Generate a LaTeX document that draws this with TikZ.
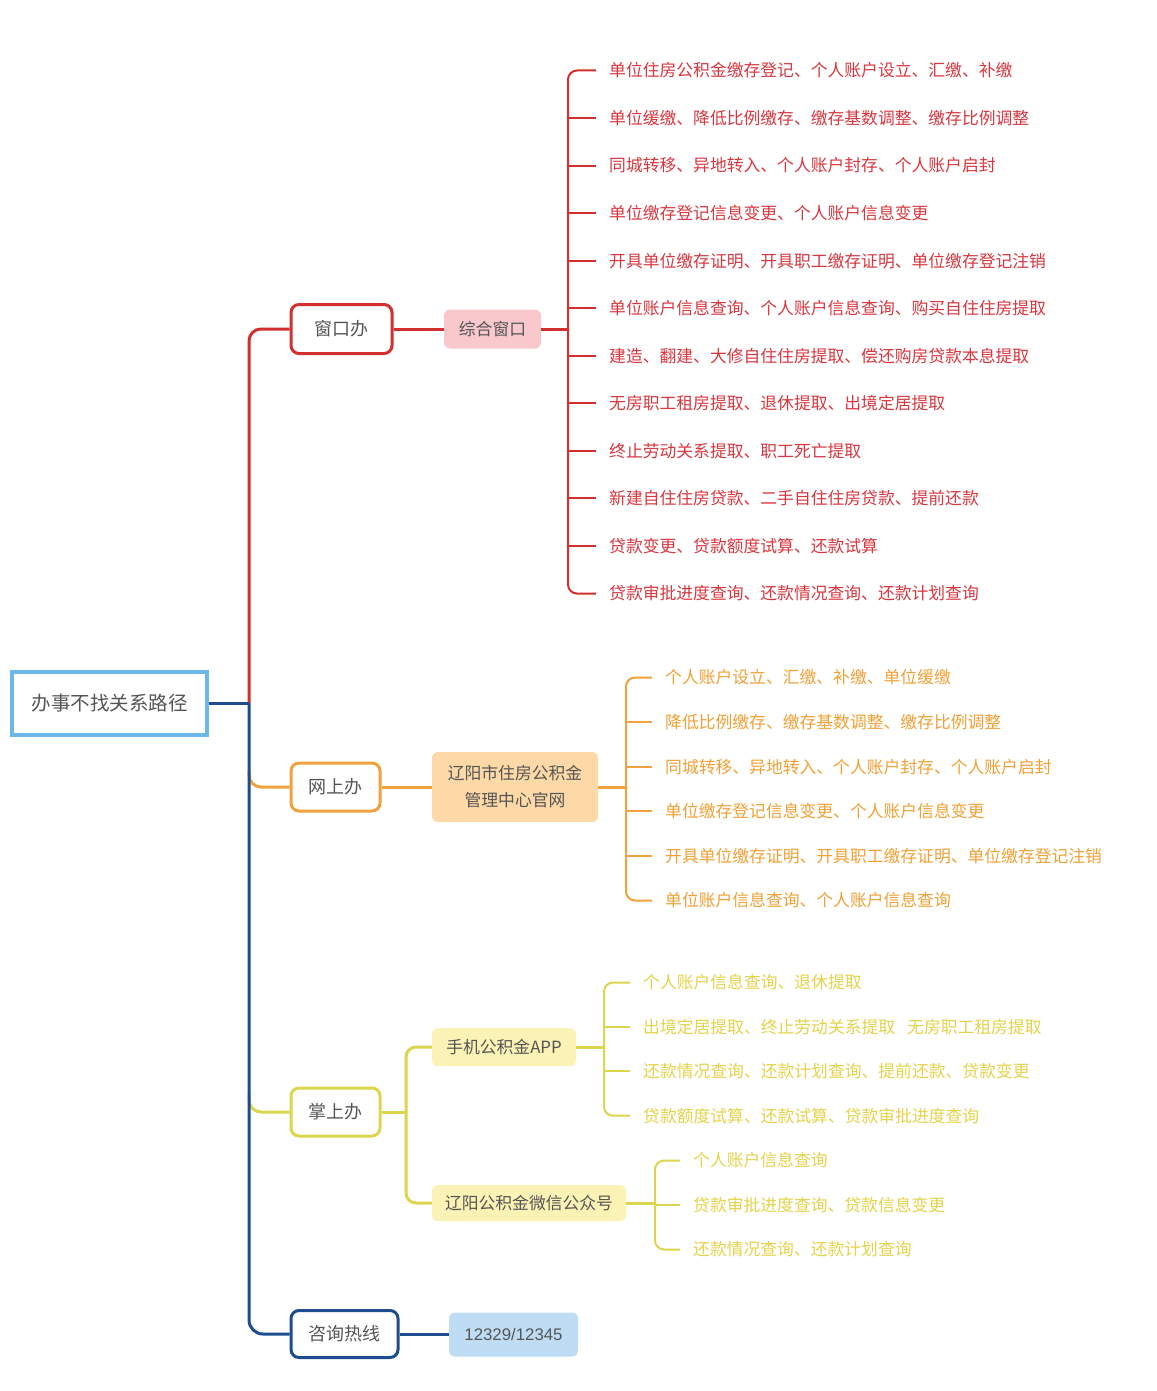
\documentclass[tikz,border=0pt]{standalone}
\usepackage{fontspec}
\setmainfont{Noto Sans CJK SC}
\newfontfamily\latinf{Liberation Sans}
\usetikzlibrary{calc}
\definecolor{cred}{HTML}{D32F2F}
\definecolor{tred}{HTML}{D8373F}
\definecolor{fpink}{HTML}{F8C8CD}
\definecolor{corange}{HTML}{F2A23C}
\definecolor{torange}{HTML}{F0A136}
\definecolor{forange}{HTML}{FCD9A6}
\definecolor{cyellow}{HTML}{DCD54E}
\definecolor{tyellow}{HTML}{E4D34B}
\definecolor{fyellow}{HTML}{FBF2B5}
\definecolor{cblue}{HTML}{1E4D8F}
\definecolor{rootb}{HTML}{6CB8E8}
\definecolor{fblue}{HTML}{BEDDF5}
\definecolor{tgray}{HTML}{555555}
\tikzset{
  every node/.style={text=tgray, inner sep=0pt},
  lvl1/.style={draw, fill=white, line width=3pt, rounded corners=8pt, font=\fontsize{18}{20}\selectfont},
  lvl2/.style={rounded corners=6pt, font=\fontsize{16.8}{19}\selectfont, align=center},
  item/.style={anchor=west, font=\fontsize{16.8}{19}\selectfont},
  conn/.style={line width=3pt},
  brk/.style={line width=2pt, rounded corners=9pt},
}
\begin{document}
\begin{tikzpicture}[x=1pt,y=-1pt]
\useasboundingbox (0,0) rectangle (1156,1391);
\fill[white] (0,0) rectangle (1156,1391);

% root
\node[draw=rootb, line width=4pt, minimum width=195pt, minimum height=63pt,
      font=\fontsize{19.5}{22}\selectfont] (root) at (109.5,703) {办事不找关系路径};
\coordinate (trunk) at (249,703);
\coordinate (ob) at (249,770);
\coordinate (yb) at (249,1094);

% level 1
\node[lvl1, draw=cred, minimum width=101pt, minimum height=49pt] (win) at (341.5,329) {窗口办};
\node[lvl1, draw=corange, minimum width=89pt, minimum height=48pt] (web) at (335.5,787) {网上办};
\node[lvl1, draw=cyellow, minimum width=89pt, minimum height=48pt] (palm) at (335.5,1112) {掌上办};
\node[lvl1, draw=cblue, minimum width=107pt, minimum height=47pt] (hot) at (344.5,1334) {咨询热线};

% branches from trunk
\draw[conn, cred, rounded corners=12pt] (trunk) |- (win.west);
\draw[conn, corange, rounded corners=12pt] (ob) |- (web.west);
\draw[conn, cyellow, rounded corners=12pt] (yb) |- (palm.west);
\draw[conn, cblue] (root.east) -- (trunk);
\draw[conn, cblue, rounded corners=14pt] (trunk) |- (hot.west);

% level 2
\node[lvl2, fill=fpink, minimum width=97pt, minimum height=39pt] (zh) at (492.5,329) {综合窗口};
\node[lvl2, fill=forange, minimum width=166pt, minimum height=70pt, font=\fontsize{16.8}{27}\selectfont] (gw) at (515,787) {辽阳市住房公积金\\管理中心官网};
\node[lvl2, fill=fyellow, minimum width=144pt, minimum height=38pt] (app) at (504,1047) {手机公积金APP};
\node[lvl2, fill=fyellow, minimum width=194pt, minimum height=36pt] (wx) at (529,1203) {辽阳公积金微信公众号};
\node[lvl2, fill=fblue, minimum width=129pt, minimum height=44pt, font=\latinf\fontsize{16.8}{19}\selectfont] (tel) at (513.5,1334.5) {12329/12345};

\draw[conn, cred] (win.east) -- (zh.west);
\draw[conn, corange] (web.east) -- (web.east -| gw.west);
\draw[conn, cblue] (hot.east) -- (hot.east -| tel.west);
\coordinate (py) at (406,1112);
\draw[conn, cyellow] (palm.east) -- (py);
\draw[conn, cyellow, rounded corners=10pt] (app.west) -| (py);
\draw[conn, cyellow, rounded corners=10pt] (wx.west) -| (py);

% red items
\foreach \t [count=\i] in {
 单位住房公积金缴存登记、个人账户设立、汇缴、补缴,
 单位缓缴、降低比例缴存、缴存基数调整、缴存比例调整,
 同城转移、异地转入、个人账户封存、个人账户启封,
 单位缴存登记信息变更、个人账户信息变更,
 开具单位缴存证明、开具职工缴存证明、单位缴存登记注销,
 单位账户信息查询、个人账户信息查询、购买自住住房提取,
 建造、翻建、大修自住住房提取、偿还购房贷款本息提取,
 无房职工租房提取、退休提取、出境定居提取,
 终止劳动关系提取、职工死亡提取,
 新建自住住房贷款、二手自住住房贷款、提前还款,
 贷款变更、贷款额度试算、还款试算,
 贷款审批进度查询、还款情况查询、还款计划查询}
 { \node[item, text=tred] (r\i) at (609,{70.5+(\i-1)*47.55}) {\t}; }
\coordinate (rb) at ($(r1.west)+(-41,0)$);
\draw[brk, cred] ($(r1.west)+(-13,0)$) -- (rb) -- ($(r12.west)+(-41,0)$) -- ($(r12.west)+(-13,0)$);
\foreach \i in {2,...,11} \draw[line width=2pt, cred] ($(r\i.west)+(-41,0)$) -- ($(r\i.west)+(-13,0)$);
\draw[conn, cred] (zh.east) -- (zh.east -| rb);

% orange items
\foreach \t [count=\i] in {
 个人账户设立、汇缴、补缴、单位缓缴,
 降低比例缴存、缴存基数调整、缴存比例调整,
 同城转移、异地转入、个人账户封存、个人账户启封,
 单位缴存登记信息变更、个人账户信息变更,
 开具单位缴存证明、开具职工缴存证明、单位缴存登记注销,
 单位账户信息查询、个人账户信息查询}
 { \node[item, text=torange] (o\i) at (665,{677.5+(\i-1)*44.6}) {\t}; }
\coordinate (orb) at ($(o1.west)+(-39,0)$);
\draw[brk, corange] ($(o1.west)+(-13,0)$) -- (orb) -- ($(o6.west)+(-39,0)$) -- ($(o6.west)+(-13,0)$);
\foreach \i in {2,...,5} \draw[line width=2pt, corange] ($(o\i.west)+(-39,0)$) -- ($(o\i.west)+(-13,0)$);
\draw[conn, corange] (gw.east) -- (gw.east -| orb);

% yellow items (APP)
\foreach \t [count=\i] in {
 个人账户信息查询、退休提取,
 出境定居提取、终止劳动关系提取\hspace{12pt}无房职工租房提取,
 还款情况查询、还款计划查询、提前还款、贷款变更,
 贷款额度试算、还款试算、贷款审批进度查询}
 { \node[item, text=tyellow] (a\i) at (643,{982.5+(\i-1)*44.4}) {\t}; }
\coordinate (arb) at ($(a1.west)+(-39,0)$);
\draw[brk, cyellow] ($(a1.west)+(-13,0)$) -- (arb) -- ($(a4.west)+(-39,0)$) -- ($(a4.west)+(-13,0)$);
\foreach \i in {2,3} \draw[line width=2pt, cyellow] ($(a\i.west)+(-39,0)$) -- ($(a\i.west)+(-13,0)$);
\draw[conn, cyellow] (app.east) -- (app.east -| arb);

% yellow items (WeChat)
\foreach \t [count=\i] in {
 个人账户信息查询,
 贷款审批进度查询、贷款信息变更,
 还款情况查询、还款计划查询}
 { \node[item, text=tyellow] (w\i) at (693,{1160.5+(\i-1)*44.5}) {\t}; }
\coordinate (wrb) at ($(w1.west)+(-38,0)$);
\draw[brk, cyellow] ($(w1.west)+(-13,0)$) -- (wrb) -- ($(w3.west)+(-38,0)$) -- ($(w3.west)+(-13,0)$);
\draw[line width=2pt, cyellow] ($(w2.west)+(-38,0)$) -- ($(w2.west)+(-13,0)$);
\draw[conn, cyellow] (wx.east) -- (wx.east -| wrb);
\end{tikzpicture}
\end{document}
